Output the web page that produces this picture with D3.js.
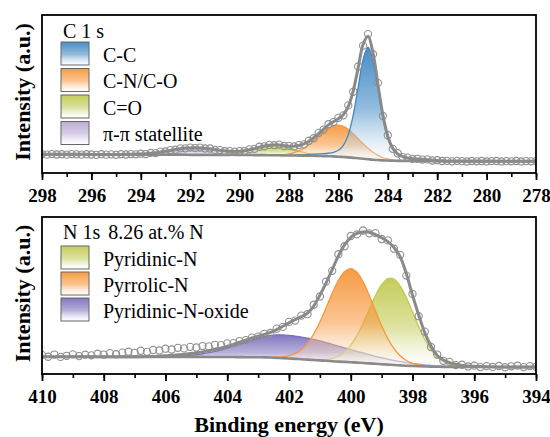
<!DOCTYPE html>
<html>
<head>
<meta charset="utf-8">
<script src="https://cdn.jsdelivr.net/npm/d3@7"></script>
<style>
  body { margin: 0; background: #fff; }
  svg { display: block; font-family: "Liberation Serif", "Times New Roman", serif; }
  svg text { font-family: "Liberation Serif", "Times New Roman", serif; }
</style>
</head>
<body>
<svg id="chart" width="550" height="437"></svg>
<script>
// ---------- C 1s : grid 298 -> 278 eV, step 0.2 ----------
const c1sStart = 298, c1sStep = 0.2
const c1sTicks = [298, 296, 294, 292, 290, 288, 286, 284, 282, 280, 278]
const c1sCounts = [
  11.9, 11.6, 12.0, 11.7, 11.9, 11.6, 12.0, 11.8, 11.6, 11.9,
  11.7, 11.5, 11.9, 11.6, 11.8, 11.5, 11.9, 11.7, 12.0, 11.8,
  12.2, 12.0, 12.7, 12.6, 13.5, 13.6, 14.5, 14.7, 15.6, 15.6,
  16.1, 15.8, 16.1, 15.5, 15.5, 14.6, 14.5, 13.8, 13.9, 13.5,
  13.9, 13.9, 15.0, 15.3, 16.6, 16.9, 17.8, 17.6, 18.0, 17.1,
  17.2, 16.8, 17.7, 18.1, 20.4, 22.0, 25.4, 27.5, 30.9, 32.2,
  34.9, 36.5, 42.8, 51.4, 67.4, 80.6, 87.9, 75.2, 57.0, 36.1,
  23.9, 15.3, 12.5, 10.1, 9.7, 8.9, 9.0, 8.5, 8.6, 7.9,
  8.1, 7.6, 7.7, 7.4, 7.7, 7.5, 7.3, 7.6, 7.4, 7.6,
  7.3, 7.5, 7.6, 7.3, 7.5, 7.4, 7.6, 7.3, 7.5, 7.4,
  7.5
]
const c1sFit = [
  11.8, 11.8, 11.8, 11.8, 11.8, 11.8, 11.8, 11.8, 11.8, 11.8,
  11.7, 11.7, 11.7, 11.7, 11.7, 11.7, 11.75, 11.8, 11.85, 11.95,
  12.0, 12.2, 12.5, 12.85, 13.3, 13.8, 14.3, 14.9, 15.4, 15.8,
  15.9, 16.0, 15.9, 15.7, 15.3, 14.85, 14.35, 14.0, 13.7, 13.65,
  13.7, 14.1, 14.8, 15.45, 16.35, 17.1, 17.55, 17.8, 17.8, 17.3,
  17.0, 17.0, 17.4, 18.4, 20.0, 22.3, 24.95, 27.8, 30.45, 32.5,
  34.4, 36.9, 42.1, 52.0, 66.6, 81.4, 86.6, 76.0, 56.1, 36.9,
  23.3, 15.7, 12.1, 10.4, 9.5, 9.1, 8.85, 8.6, 8.4, 8.1,
  7.9, 7.7, 7.5, 7.5, 7.5, 7.5, 7.5, 7.5, 7.5, 7.5,
  7.5, 7.5, 7.4, 7.4, 7.4, 7.4, 7.4, 7.4, 7.4, 7.4,
  7.4
]
const c1sBackground = [
  11.8, 11.8, 11.8, 11.8, 11.8, 11.8, 11.8, 11.8, 11.8, 11.8,
  11.7, 11.7, 11.7, 11.7, 11.7, 11.7, 11.7, 11.7, 11.7, 11.7,
  11.6, 11.6, 11.6, 11.6, 11.6, 11.6, 11.6, 11.6, 11.6, 11.6,
  11.5, 11.5, 11.5, 11.5, 11.5, 11.5, 11.5, 11.5, 11.5, 11.5,
  11.4, 11.4, 11.4, 11.3, 11.3, 11.3, 11.2, 11.2, 11.2, 11.1,
  11.1, 11.1, 11.0, 11.0, 10.9, 10.9, 10.8, 10.7, 10.6, 10.5,
  10.3, 10.1, 9.9, 9.6, 9.3, 9.0, 8.7, 8.4, 8.2, 8.0,
  7.9, 7.8, 7.7, 7.7, 7.6, 7.6, 7.6, 7.6, 7.6, 7.5,
  7.5, 7.5, 7.5, 7.5, 7.5, 7.5, 7.5, 7.5, 7.5, 7.5,
  7.5, 7.5, 7.4, 7.4, 7.4, 7.4, 7.4, 7.4, 7.4, 7.4,
  7.4
]
// fitted components: height above background, first energy given
const ccStart = 288.0
const ccPeak = [0, 0.2, 0.4, 0.6, 0.8, 1.0, 1.25, 1.5, 1.9, 2.6, 4.1, 7.4, 14.4, 27.1, 44.9, 62.9, 71,
  62.9, 44.9, 27.1, 14.4, 7.4, 4.1, 2.6, 1.9, 1.5, 1.25, 1.0, 0.8, 0.6, 0.4, 0.2, 0]
const cnStart = 288.8
const cnPeak = [0, 0.1, 0.3, 0.5, 1.0, 1.8, 3.0, 4.7, 6.9, 9.5, 12.4, 15.3, 17.8, 19.4, 20,
  19.4, 17.8, 15.3, 12.4, 9.5, 6.9, 4.7, 3.0, 1.8, 1.0, 0.5, 0.3, 0.1, 0]
const coStart = 291.0
const coPeak = [0, 0.15, 0.3, 0.5, 0.9, 1.4, 2.1, 3.0, 3.9, 4.9, 5.7, 6.3, 6.5,
  6.3, 5.7, 4.9, 3.9, 3.0, 2.1, 1.4, 0.9, 0.5, 0.3, 0.15, 0]
const pipiStart = 294.8
const pipiPeak = [0, 0.1, 0.15, 0.25, 0.4, 0.6, 0.9, 1.25, 1.7, 2.2, 2.7, 3.3, 3.8, 4.2, 4.4, 4.5,
  4.4, 4.2, 3.8, 3.3, 2.7, 2.2, 1.7, 1.25, 0.9, 0.6, 0.4, 0.25, 0.15, 0.1, 0]
const c1sLabels = ['C-C', 'C-N/C-O', 'C=O', 'π-π statellite']

// ---------- N 1s : grid 410 -> 394 eV, step 0.2 ----------
const n1sStart = 410, n1sStep = 0.2
const n1sTicks = [410, 408, 406, 404, 402, 400, 398, 396, 394]
const n1sCounts = [
  12.2, 11.0, 12.4, 10.9, 11.6, 12.5, 11.4, 12.3, 11.9, 12.9,
  12.4, 13.3, 12.6, 13.6, 14.2, 13.5, 14.8, 14.1, 15.3, 15.0,
  16.1, 15.6, 16.7, 16.3, 17.3, 16.9, 17.8, 17.6, 18.6, 18.4,
  19.5, 19.7, 21.0, 21.6, 23.2, 23.8, 25.6, 26.1, 28.9, 30.0,
  33.2, 34.0, 37.2, 38.1, 44.1, 49.4, 58.8, 65.7, 76.3, 81.4,
  87.9, 88.9, 91.4, 89.6, 89.7, 86.0, 85.1, 79.8, 75.9, 62.7,
  51.0, 36.8, 27.0, 17.2, 12.4, 8.4, 7.7, 5.7, 5.9, 4.8,
  5.3, 4.4, 5.0, 4.5, 5.1, 4.3, 4.9, 5.3, 4.4, 5.0,
  4.6
]
const n1sFit = [
  11.0, 11.0, 11.0, 11.0, 11.0, 11.0, 11.0, 11.0, 11.0, 10.95,
  10.95, 10.95, 10.95, 10.95, 11.0, 11.0, 11.05, 11.1, 11.2, 11.4,
  11.6, 11.9, 12.2, 12.6, 13.0, 13.5, 14.1, 14.8, 15.6, 16.6,
  17.7, 18.9, 20.2, 21.6, 23.0, 24.1, 25.2, 26.5, 28.3, 30.4,
  32.6, 34.6, 36.5, 38.8, 43.3, 50.2, 57.9, 66.5, 75.2, 82.2,
  87.0, 89.6, 90.5, 90.3, 88.8, 86.8, 84.3, 80.6, 74.8, 63.8,
  50.2, 37.6, 26.2, 17.8, 11.8, 8.9, 7.2, 6.2, 5.5, 5.1,
  4.9, 4.7, 4.6, 4.55, 4.5, 4.5, 4.45, 4.45, 4.45, 4.45,
  4.45
]
const n1sBackground = [
  11.0, 11.0, 11.0, 11.0, 11.0, 11.0, 11.0, 11.0, 11.0, 10.9,
  10.9, 10.9, 10.9, 10.9, 10.9, 10.9, 10.9, 10.9, 10.9, 10.9,
  10.9, 10.9, 10.9, 10.9, 10.9, 10.9, 10.9, 10.85, 10.85, 10.8,
  10.8, 10.8, 10.75, 10.7, 10.7, 10.7, 10.6, 10.5, 10.3, 10.1,
  9.9, 9.65, 9.4, 9.15, 8.9, 8.65, 8.4, 8.15, 7.9, 7.7,
  7.5, 7.25, 7.0, 6.75, 6.5, 6.25, 6.0, 5.75, 5.5, 5.3,
  5.1, 4.95, 4.8, 4.7, 4.6, 4.55, 4.5, 4.5, 4.5, 4.5,
  4.5, 4.45, 4.45, 4.45, 4.45, 4.4, 4.4, 4.4, 4.4, 4.4,
  4.4
]
const pyridinicStart = 401.4
const pyridinicPeak = [0, 0.1, 0.3, 0.8, 1.7, 3.4, 6.3, 10.8, 17.2, 25.3, 34.4, 43.4, 50.6, 54.7,
  54.7, 50.6, 43.4, 34.4, 25.3, 17.2, 10.8, 6.3, 3.4, 1.7, 0.8, 0.3, 0.1, 0]
const pyrrolicStart = 402.8
const pyrrolicPeak = [0, 0.15, 0.4, 0.8, 1.7, 3.3, 6.1, 10.4, 16.6, 24.5, 33.7, 43.3, 51.7, 57.5, 59.6,
  57.5, 51.7, 43.3, 33.7, 24.5, 16.6, 10.4, 6.1, 3.3, 1.7, 0.8, 0.4, 0.15, 0]
const oxideStart = 406.4
const oxidePeak = [0, 0.1, 0.2, 0.3, 0.5, 0.7, 1.0, 1.5, 2.0, 2.7, 3.5, 4.5, 5.7, 6.9, 8.3, 9.7, 11.0,
  12.2, 13.3, 14.1, 14.6, 14.8, 14.7, 14.5, 14.1, 13.7, 13.1, 12.4, 11.6, 10.7, 9.9, 9.0, 8.1,
  7.2, 6.4, 5.6, 4.8, 4.1, 3.5, 2.9, 2.4, 2.0, 1.6, 1.3, 1.0, 0.8, 0.6, 0.5, 0.4, 0.3, 0.2, 0.1, 0]
const n1sLabels = ['Pyridinic-N', 'Pyrrolic-N', 'Pyridinic-N-oxide']

const serif = '"Liberation Serif", "Times New Roman", serif'
const svg = d3.select('#chart')
const defs = svg.append('defs')
const grey = '#8a8a8a'

function makeGrad(id, color) {
  const g = defs.append('linearGradient').attr('id', id)
    .attr('x1', 0).attr('y1', 0).attr('x2', 0).attr('y2', 1)
  g.append('stop').attr('offset', '0%').attr('stop-color', color).attr('stop-opacity', 0.95)
  g.append('stop').attr('offset', '55%').attr('stop-color', color).attr('stop-opacity', 0.55)
  g.append('stop').attr('offset', '100%').attr('stop-color', '#fff').attr('stop-opacity', 0.3)
}

function drawPanel(p) {
  const x = d3.scaleLinear().domain(p.xDomain).range([42, 536])
  const y = d3.scaleLinear().domain([0, 100]).range([p.bottom, p.top])
  const E = i => p.start - p.step * i
  const idx = e => Math.round((p.start - e) / p.step)

  defs.append('clipPath').attr('id', p.id + '-clip')
    .append('rect').attr('x', 42).attr('y', p.top).attr('width', 494).attr('height', p.bottom - p.top)
  const g = svg.append('g').attr('clip-path', `url(#${p.id}-clip)`)

  // components
  p.comps.forEach((c, k) => {
    makeGrad(`${p.id}-g${k}`, c.color)
    const pts = c.h.map((h, j) => {
      const e = c.start - p.step * j
      const b = p.bg[idx(e)]
      return { e, b, v: b + h }
    })
    g.append('path').datum(pts)
      .attr('fill', `url(#${p.id}-g${k})`)
      .attr('d', d3.area().x(d => x(d.e)).y0(d => y(d.b)).y1(d => y(d.v)).curve(d3.curveCatmullRom))
    g.append('path').datum(pts)
      .attr('fill', 'none').attr('stroke', c.color).attr('stroke-width', 1.3)
      .attr('d', d3.line().x(d => x(d.e)).y(d => y(d.v)).curve(d3.curveCatmullRom))
  })

  const line = d3.line().x((d, i) => x(E(i))).y(d => y(d)).curve(d3.curveCatmullRom)
  g.append('path').datum(p.bg).attr('fill', 'none').attr('stroke', grey).attr('stroke-width', 2.6).attr('d', line)

  g.selectAll('circle.pt').data(p.counts).join('circle')
    .attr('class', 'pt')
    .attr('cx', (d, i) => x(E(i))).attr('cy', d => y(d)).attr('r', 3.6)
    .attr('fill', 'none').attr('stroke', '#8f8f8f').attr('stroke-width', 1.1)

  g.append('path').datum(p.fit).attr('fill', 'none').attr('stroke', grey).attr('stroke-width', 3).attr('d', line)

  // axis
  const minor = d3.range(p.xDomain[0], p.xDomain[1] - 0.5, -1)
  svg.append('g').attr('transform', `translate(0,${p.bottom})`)
    .call(d3.axisBottom(x).tickValues(minor).tickSize(4).tickFormat(''))
    .call(a => a.select('.domain').remove())
    .call(a => a.selectAll('line').attr('stroke', '#000').attr('stroke-width', 1.6))
  svg.append('g').attr('transform', `translate(0,${p.bottom})`)
    .attr('font-family', serif)
    .call(d3.axisBottom(x).tickValues(p.ticks).tickSize(7).tickPadding(9).tickFormat(d3.format('d')))
    .attr('font-family', serif)
    .call(a => a.select('.domain').remove())
    .call(a => a.selectAll('line').attr('stroke', '#000').attr('stroke-width', 1.8))
    .call(a => a.selectAll('text').attr('fill', '#000').attr('font-size', 19).attr('font-weight', 'bold'))

  svg.append('rect').attr('x', 42).attr('y', p.top).attr('width', 494).attr('height', p.bottom - p.top)
    .attr('fill', 'none').attr('stroke', '#000').attr('stroke-width', 1.8)

  svg.append('text').attr('transform', `translate(30,${(p.top + p.bottom) / 2 - 2}) rotate(-90)`)
    .attr('text-anchor', 'middle').attr('font-size', 22).attr('font-weight', 'bold').text('Intensity (a.u.)')

  // legend
  const lg = svg.append('g')
  p.title(lg.append('text').attr('x', 63).attr('y', p.titleY).attr('font-size', 20))
  p.legendOrder.forEach((k, r) => {
    const top = p.rowTop + r * p.rowGap
    lg.append('rect').attr('x', 61).attr('y', top).attr('width', 28).attr('height', 23)
      .attr('fill', `url(#${p.id}-g${k})`).attr('stroke', '#666').attr('stroke-width', 1)
    lg.append('text').attr('x', 103).attr('y', top + 19.7).attr('font-size', 20).text(p.labels[r])
  })
}

drawPanel({
  id: 'c1s', top: 15, bottom: 173, xDomain: [298, 278], start: c1sStart, step: c1sStep,
  ticks: c1sTicks, counts: c1sCounts, fit: c1sFit, bg: c1sBackground,
  comps: [
    { color: '#b9a8d2', start: pipiStart, h: pipiPeak },
    { color: '#bfc94f', start: coStart, h: coPeak },
    { color: '#f7963a', start: cnStart, h: cnPeak },
    { color: '#3d87c4', start: ccStart, h: ccPeak }
  ],
  legendOrder: [3, 2, 1, 0], labels: c1sLabels,
  title: t => t.text('C 1 s'), titleY: 37.5, rowTop: 42, rowGap: 26.5
})

drawPanel({
  id: 'n1s', top: 217, bottom: 374, xDomain: [410, 394], start: n1sStart, step: n1sStep,
  ticks: n1sTicks, counts: n1sCounts, fit: n1sFit, bg: n1sBackground,
  comps: [
    { color: '#7d70bd', start: oxideStart, h: oxidePeak },
    { color: '#c2ca52', start: pyridinicStart, h: pyridinicPeak },
    { color: '#f7963a', start: pyrrolicStart, h: pyrrolicPeak }
  ],
  legendOrder: [1, 2, 0], labels: n1sLabels,
  title: t => { t.text('N 1s'); t.append('tspan').attr('dx', 8).text('8.26 at.% N') },
  titleY: 238.5, rowTop: 246, rowGap: 26
})

svg.append('text').attr('x', 289).attr('y', 432).attr('text-anchor', 'middle')
  .attr('font-size', 22).attr('font-weight', 'bold').text('Binding energy (eV)')
</script>
</body>
</html>
